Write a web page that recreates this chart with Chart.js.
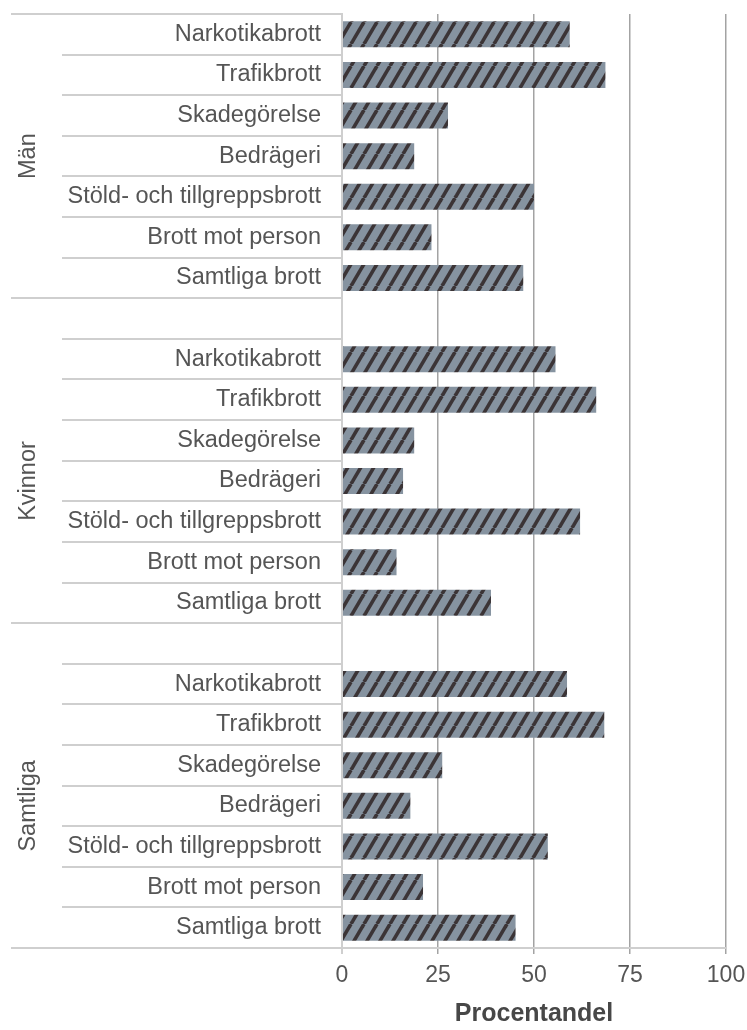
<!DOCTYPE html>
<html>
<head>
<meta charset="utf-8">
<script src="https://cdn.jsdelivr.net/npm/chart.js@4.4.1/dist/chart.umd.min.js"></script>
<style>
  body { margin: 0; background: #fff; }
  #wrap { width: 747px; height: 1030px; }
</style>
</head>
<body>
<div id="wrap"><canvas id="myChart" width="747" height="1030"></canvas></div>
<script>
const groups = ["Män", "Kvinnor", "Samtliga"];
const categories = [
  "Narkotikabrott",
  "Trafikbrott",
  "Skadegörelse",
  "Bedrägeri",
  "Stöld- och tillgreppsbrott",
  "Brott mot person",
  "Samtliga brott",
];
const man = [59.3, 68.6, 27.6, 18.8, 50.0, 23.3, 47.2];
const kvinnor = [55.6, 66.2, 18.8, 15.9, 62.0, 14.2, 38.8];
const samtliga = [58.6, 68.3, 26.1, 17.8, 53.6, 21.1, 45.2];
const groupValues = [man, kvinnor, samtliga];

const textColor = "#555";
const lineColor = "#cfcfcf";
const font = "'Liberation Sans', Arial, sans-serif";

// one empty slot between the groups
const labels = [];
const values = [];
groups.forEach((g, gi) => {
  if (gi > 0) {
    labels.push("");
    values.push(null);
  }
  categories.forEach((c, ci) => {
    labels.push(c);
    values.push(groupValues[gi][ci]);
  });
});

function stripes() {
  const w = 13, h = 22;
  const c = document.createElement("canvas");
  c.width = w;
  c.height = h;
  const x = c.getContext("2d");
  x.fillStyle = "#8693a0";
  x.fillRect(0, 0, w, h);
  x.strokeStyle = "#3b3436";
  x.lineWidth = 3.6;
  for (const dx of [-w, 0, w]) {
    x.beginPath();
    x.moveTo(dx, h);
    x.lineTo(dx + w, 0);
    x.stroke();
  }
  return x.createPattern(c, "repeat");
}

// separator lines in the label column + rotated group names
const groupPlugin = {
  id: "groupLines",
  afterDraw(chart) {
    const ctx = chart.ctx;
    const y = chart.scales.y;
    const area = chart.chartArea;
    const n = labels.length;
    const step = (y.bottom - y.top) / n;
    const perGroup = categories.length + 1;
    ctx.save();
    ctx.strokeStyle = lineColor;
    ctx.lineWidth = 2;
    for (let b = 0; b <= n; b++) {
      const py = Math.round(y.top + b * step);
      const long = b === 0 || b === n || b % perGroup === categories.length;
      ctx.beginPath();
      ctx.moveTo(long ? 11 : 62, py);
      ctx.lineTo(area.left, py);
      ctx.stroke();
    }
    ctx.fillStyle = textColor;
    ctx.font = "23.5px " + font;
    ctx.textAlign = "center";
    ctx.textBaseline = "middle";
    groups.forEach((g, gi) => {
      const first = gi * perGroup;
      const last = first + categories.length - 1;
      const cy = (y.getPixelForValue(first) + y.getPixelForValue(last)) / 2;
      ctx.save();
      ctx.translate(29, cy);
      ctx.rotate(-Math.PI / 2);
      ctx.fillText(g, 0, 0);
      ctx.restore();
    });
    ctx.restore();
  },
};

const ctx = document.getElementById("myChart").getContext("2d");
const myChart = new Chart(ctx, {
  type: "bar",
  data: {
    labels: labels,
    datasets: [
      {
        data: values,
        backgroundColor: stripes(),
        borderWidth: 0,
        categoryPercentage: 1,
        barPercentage: 0.64,
      },
    ],
  },
  options: {
    indexAxis: "y",
    responsive: false,
    animation: false,
    devicePixelRatio: 1,
    layout: { padding: { left: 0, right: 21, top: 14, bottom: 0 } },
    plugins: {
      legend: { display: false },
      tooltip: { enabled: false },
    },
    scales: {
      x: {
        min: 0,
        max: 100,
        afterFit: (s) => {
          s.height = 82;
          s.paddingLeft = 0;
          s.paddingRight = 0;
        },
        ticks: {
          stepSize: 25,
          color: textColor,
          padding: 8,
          font: { family: font, size: 23 },
        },
        grid: {
          color: (c) => (c.index === 0 ? lineColor : "#a3a3a3"),
          lineWidth: (c) => (c.index === 0 ? 2 : 1.5),
          tickLength: 6,
        },
        border: { display: true, color: lineColor, width: 2 },
        title: {
          display: true,
          text: "Procentandel",
          color: "#474747",
          padding: { top: 0, bottom: 1 },
          font: { family: font, size: 25, weight: "bold" },
        },
      },
      y: {
        afterFit: (s) => {
          s.width = 342;
          s.paddingTop = 0;
          s.paddingBottom = 0;
        },
        ticks: {
          autoSkip: false,
          color: textColor,
          padding: 21,
          font: { family: font, size: 23.5 },
        },
        grid: { display: false, drawTicks: false },
        border: { display: true, color: lineColor, width: 2 },
      },
    },
  },
  plugins: [groupPlugin],
});
</script>
</body>
</html>
